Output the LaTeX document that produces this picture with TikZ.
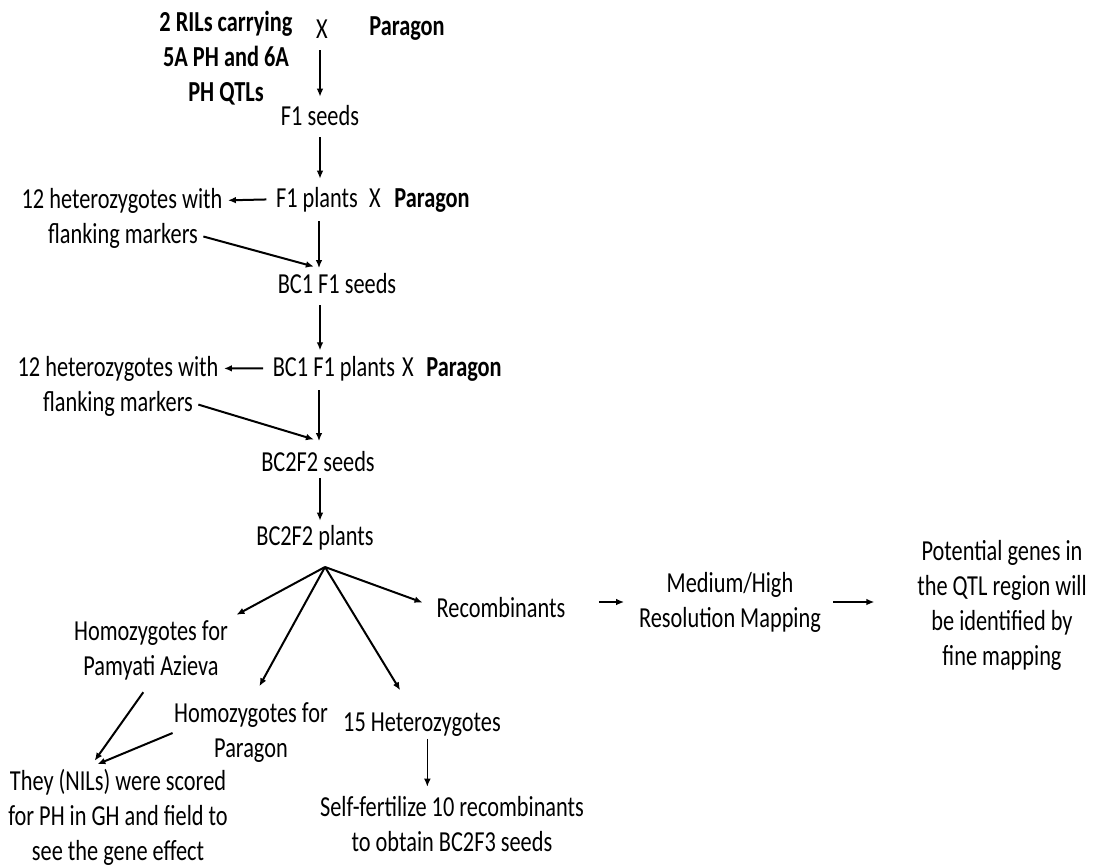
\documentclass[tikz,border=0pt]{standalone}
\usepackage{fontspec}
\setmainfont{Carlito}[FakeStretch=0.77]
\usepackage{tikz}
\usetikzlibrary{arrows.meta, calc}
\tikzset{>={Latex[length=6pt,width=5pt]}}
\tikzset{
  lbl/.style={font=\fontsize{21.75}{26.25}\selectfont, inner sep=1pt},
  boldlbl/.style={lbl, font=\fontsize{21.75}{26.25}\selectfont\bfseries},
  blk/.style={lbl, align=center},
  flow/.style={->, line width=1pt},
  feed/.style={->, line width=1.5pt},
}

\begin{document}
\begin{tikzpicture}[x=0.75pt, y=-0.75pt]
   \useasboundingbox (0,0) rectangle (1097,868);
   \coordinate (spine) at (320,0);

   % parents
   \node[blk, font=\fontsize{21.75}{26.25}\selectfont\bfseries] (rils) at (226,58) {2 RILs carrying\\5A PH and 6A\\PH QTLs};
   \node[lbl, anchor=base] (cross1) at (322,38) {X};
   \node[boldlbl, anchor=base] (par1) at (407,35) {Paragon};
   \node[lbl, anchor=base] (f1seeds) at (320,125) {F1 seeds};

   % first backcross
   \node[lbl, anchor=base] (f1plants) at (317,207) {F1 plants};
   \node[lbl, anchor=base] (cross2) at (375,207) {X};
   \node[boldlbl, anchor=base] (par2) at (432,207) {Paragon};
   \node[lbl, anchor=base] (het1) at (122,208) {12 heterozygotes with};
   \node[lbl, anchor=base] (flank1) at (123,243) {flanking markers};
   \coordinate (m1) at (319,268);
   \node[lbl, anchor=base] (bc1seeds) at (337,293) {BC1 F1 seeds};

   % second backcross
   \node[lbl, anchor=base] (bc1plants) at (334,376) {BC1 F1 plants};
   \node[lbl, anchor=base] (cross3) at (408,376) {X};
   \node[boldlbl, anchor=base] (par3) at (464,376) {Paragon};
   \node[lbl, anchor=base] (het2) at (118,376) {12 heterozygotes with};
   \node[lbl, anchor=base] (flank2) at (118,411) {flanking markers};
   \coordinate (m2) at (319,441);
   \node[lbl, anchor=base] (bc2seeds) at (318,471) {BC2F2 seeds};
   \node[lbl, anchor=base] (bc2plants) at (315,545) {BC2F2 plants};
   \coordinate (fan) at (325,567);

   % classes
   \node[blk] (hompa) at (151,650) {Homozygotes for\\Pamyati Azieva};
   \node[blk] (hompar) at (251,733) {Homozygotes for\\Paragon};
   \node[lbl, anchor=base] (het15) at (422,731) {15 Heterozygotes};
   \node[lbl, anchor=base] (recomb) at (501,617) {Recombinants};
   \node[blk] (medium) at (730,602) {Medium/High\\Resolution Mapping};
   \node[blk] (potential) at (1002,605) {Potential genes in\\the QTL region will\\be identified by\\fine mapping};
   \node[blk] (nils) at (118,817) {They (NILs) were scored\\for PH in GH and field to\\see the gene effect};
   \node[blk] (selfed) at (452,824) {Self-fertilize 10 recombinants\\to obtain BC2F3 seeds};

   % main line
   \draw[flow, shorten <=8pt, shorten >=5pt] (cross1.south -| spine) -- (f1seeds.north -| spine);
   \draw[flow, shorten <=8pt, shorten >=5pt] (f1seeds.south -| spine) -- (f1plants.north -| spine);
   \draw[feed, shorten <=6pt, shorten >=3pt] (f1plants.west) -- (het1.east);
   \draw[flow, shorten <=6pt] (f1plants.south -| m1) -- (m1);
   \draw[feed, shorten <=3pt, shorten >=4pt] (flank1.east) -- (m1);
   \draw[flow, shorten <=8pt, shorten >=3pt] (bc1seeds.south -| spine) -- (bc1plants.north -| spine);
   \draw[feed, shorten <=6pt, shorten >=3pt] (bc1plants.west) -- (het2.east);
   \draw[flow, shorten <=6pt] (bc1plants.south -| m2) -- (m2);
   \draw[feed, shorten <=3pt, shorten >=4pt] (flank2.east) -- (m2);
   \draw[flow, shorten <=4pt, shorten >=2pt] (bc2seeds.south -| spine) -- (bc2plants.north -| spine);

   % split
   \draw[feed, shorten >=6pt] (fan) -- (hompa.north east);
   \draw[feed, shorten >=13pt] (fan) -- (hompar.north);
   \draw[feed, shorten >=18pt] (fan) -- ([xshift=-7pt]het15.north);
   \draw[feed, shorten >=10pt] (fan) -- (recomb.west);
   \draw[feed, shorten <=10pt, shorten >=6pt] (hompa.south) -- ([xshift=-21pt]nils.north);
   \draw[feed, shorten >=6pt] (hompar.west) -- ([xshift=-21pt]nils.north);
   \draw[flow, shorten <=1pt, shorten >=6pt] ([xshift=4pt]het15.south) -- ([xshift=4pt]het15.south |- selfed.north);
   \draw[feed, shorten <=24pt, shorten >=10pt] (recomb.east |- medium.west) -- (medium.west);
   \draw[feed, shorten <=8pt, shorten >=31pt] (medium.east) -- (medium.east -| potential.west);
\end{tikzpicture}
\end{document}
